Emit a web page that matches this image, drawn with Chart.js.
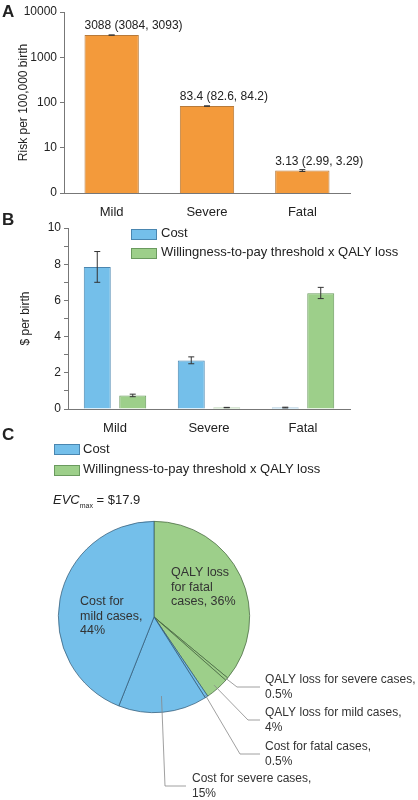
<!DOCTYPE html>
<html><head><meta charset="utf-8">
<script src="https://cdn.jsdelivr.net/npm/chart.js@4"></script>
<style>
body{margin:0;width:418px;height:800px;position:relative;background:#fff;font-family:"Liberation Sans",Arial,sans-serif;color:#222;overflow:hidden}
canvas{position:absolute;left:0}
.t{position:absolute;font-size:13px;white-space:nowrap}
.L{position:absolute;font-weight:bold;font-size:17px}
.box{position:absolute;width:24px;height:9px}
</style></head><body>
<canvas id="a" width="418" height="222" style="top:0"></canvas>
<canvas id="b" width="418" height="232" style="top:210px"></canvas>
<canvas id="c" width="418" height="370" style="top:430px"></canvas>
<div class="L" style="left:2px;top:2px">A</div>
<div class="L" style="left:2px;top:210px">B</div>
<div class="L" style="left:2px;top:425px">C</div>
<div class="box" style="left:131px;top:229px;background:#74BFEA;border:1px solid #4A86B0"></div>
<div class="t" style="left:161px;top:225px">Cost</div>
<div class="box" style="left:131px;top:248px;background:#9DCF8A;border:1px solid #6A9A5E"></div>
<div class="t" style="left:161px;top:244px">Willingness-to-pay threshold x QALY loss</div>
<div class="box" style="left:54px;top:444px;background:#74BFEA;border:1px solid #4A86B0"></div>
<div class="t" style="left:83px;top:441px">Cost</div>
<div class="box" style="left:54px;top:465px;background:#9DCF8A;border:1px solid #6A9A5E"></div>
<div class="t" style="left:83px;top:461px">Willingness-to-pay threshold x QALY loss</div>
<div class="t" style="left:53px;top:492px"><i>EVC</i><sub style="font-size:7px">max</sub> = $17.9</div>
<script>
const categories=["Mild","Severe","Fatal"];
const riskValues=[3088,83.4,3.13];
const riskLow=[3084,82.6,2.99];
const riskHigh=[3093,84.2,3.29];
const riskLabels=["3088 (3084, 3093)","83.4 (82.6, 84.2)","3.13 (2.99, 3.29)"];
const riskTicks=[1,10,100,1000,10000];
const costValues=[7.85,2.68,0.08];
const costLow=[7.0,2.5,0.06];
const costHigh=[8.7,2.88,0.1];
const qalyValues=[0.75,0.08,6.4];
const qalyLow=[0.68,0.07,6.1];
const qalyHigh=[0.82,0.09,6.72];
const pieLabels=["QALY loss for fatal cases","QALY loss for severe cases","QALY loss for mild cases","Cost for fatal cases","Cost for severe cases","Cost for mild cases"];
const pieValues=[36,0.5,4,0.5,15,44];

Chart.defaults.font.family='"Liberation Sans",Arial,sans-serif';
Chart.defaults.font.size=12;
Chart.defaults.color='#222';
const BLUE='#74BFEA',BLUEB='#4A86B0',GREEN='#9DCF8A',GREENB='#6A9A5E';

const errPlugin={id:'err',afterDatasetsDraw(ch){
  const c=ch.ctx,y=ch.scales.y;
  ch.data.datasets.forEach((ds,i)=>{
    if(!ds.lo)return;
    ch.getDatasetMeta(i).data.forEach((bar,j)=>{
      const y1=y.getPixelForValue(ds.lo[j]),y2=y.getPixelForValue(ds.hi[j]);
      c.save();c.strokeStyle='#333';c.lineWidth=1;c.beginPath();
      c.moveTo(bar.x,y1);c.lineTo(bar.x,y2);
      c.moveTo(bar.x-3,y1);c.lineTo(bar.x+3,y1);
      c.moveTo(bar.x-3,y2);c.lineTo(bar.x+3,y2);c.stroke();c.restore();
      if(ds.txt){c.save();c.font='12px "Liberation Sans",Arial';c.fillStyle='#222';c.textAlign='left';
        c.fillText(ds.txt[j],bar.x-bar.width/2,bar.y-6);c.restore();}
    });
  });
}};
const axisStyle={border:{color:'#777'},grid:{drawOnChartArea:false,color:'#777',tickLength:4}};

new Chart(document.getElementById('a'),{type:'bar',
 data:{labels:categories,datasets:[{data:riskValues,lo:riskLow,hi:riskHigh,txt:riskLabels,
   backgroundColor:'#F39A3B',borderColor:'#B77A3A',borderWidth:1,barPercentage:0.57,categoryPercentage:1}]},
 options:{responsive:false,animation:false,layout:{padding:{top:12,right:68,left:14,bottom:0}},
  plugins:{legend:{display:false},tooltip:{enabled:false}},
  scales:{
   x:{...axisStyle,grid:{display:false},ticks:{font:{size:13},padding:4},afterFit(s){s.height=29;}},
   y:{...axisStyle,type:'logarithmic',min:1,max:10000,
     afterBuildTicks(s){s.ticks=riskTicks.map(v=>({value:v}));},
     ticks:{font:{size:12},callback:v=>v===1?'0':String(v)},
     title:{display:true,text:'Risk per 100,000 birth',font:{size:12},padding:2},
     afterFit(s){s.width=50;}}}},
 plugins:[errPlugin]});

new Chart(document.getElementById('b'),{type:'bar',
 data:{labels:categories,datasets:[
  {data:costValues,lo:costLow,hi:costHigh,backgroundColor:BLUE,borderColor:BLUEB,borderWidth:1,barPercentage:0.76,categoryPercentage:0.755},
  {data:qalyValues,lo:qalyLow,hi:qalyHigh,backgroundColor:GREEN,borderColor:GREENB,borderWidth:1,barPercentage:0.76,categoryPercentage:0.755}]},
 options:{responsive:false,animation:false,layout:{padding:{top:18,right:68,left:10,bottom:0}},
  plugins:{legend:{display:false},tooltip:{enabled:false}},
  scales:{
   x:{...axisStyle,grid:{display:false},ticks:{font:{size:13},padding:4},afterFit(s){s.height=33;}},
   y:{...axisStyle,min:0,max:10,ticks:{stepSize:1,font:{size:12},callback:v=>v%2===0?String(v):''},
     title:{display:true,text:'$ per birth',font:{size:12},padding:8},
     afterFit(s){s.width=58;}}}},
 plugins:[errPlugin]});

const inside=[["QALY loss","for fatal","cases, 36%"],null,null,null,null,["Cost for","mild cases,","44%"]];
const insidePos=[[171,-44],null,null,null,null,[80,-15]];
const outside=[null,[["QALY loss for severe cases,","0.5%"],[0.99,237,260,265,70]],[["QALY loss for mild cases,","4%"],[0.95,248,260,265,103]],[["Cost for fatal cases,","0.5%"],[0.98,240,260,265,137]],[["Cost for severe cases,","15%"],[0.83,165,186,192,169]],null];
const pieLbl={id:'pl',afterDatasetsDraw(ch){
  const c=ch.ctx;c.save();c.font='12.5px "Liberation Sans",Arial';c.fillStyle='#333';c.textBaseline='middle';
  ch.getDatasetMeta(0).data.forEach((arc,i)=>{
    if(inside[i]){inside[i].forEach((t,k)=>c.fillText(t,insidePos[i][0],arc.y+insidePos[i][1]+k*14.5));}
    if(outside[i]){
      const [txt,[f,ex,lx,tx,dy]]=outside[i];
      const a=(arc.startAngle+arc.endAngle)/2,r=arc.outerRadius*f;
      const sx=arc.x+Math.cos(a)*r,sy=arc.y+Math.sin(a)*r,ly=arc.y+dy;
      c.strokeStyle='#888';c.lineWidth=0.8;c.beginPath();c.moveTo(sx,sy);c.lineTo(ex,ly);c.lineTo(lx,ly);c.stroke();
      c.font='12px "Liberation Sans",Arial';
      c.fillText(txt[0],tx,ly-7);c.fillText(txt[1],tx,ly+7.5);
      c.font='12.5px "Liberation Sans",Arial';
    }
  });c.restore();}};
new Chart(document.getElementById('c'),{type:'pie',
 data:{labels:pieLabels,datasets:[{data:pieValues,
   backgroundColor:[GREEN,GREEN,GREEN,BLUE,BLUE,BLUE],borderColor:['#3f5f3a','#3f5f3a','#3f5f3a','#2f5570','#2f5570','#2f5570'],borderWidth:0.7}]},
 options:{responsive:false,animation:false,layout:{padding:{left:58,right:168,top:91,bottom:87}},
  plugins:{legend:{display:false},tooltip:{enabled:false}}},
 plugins:[pieLbl]});
</script></body></html>
